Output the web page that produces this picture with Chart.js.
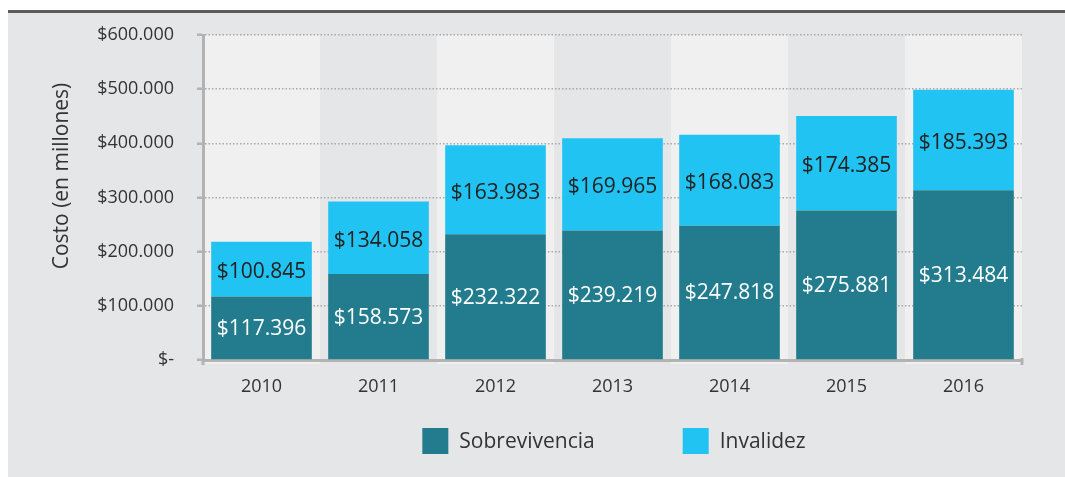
<!DOCTYPE html>
<html><head><meta charset="utf-8">
<script src="https://cdn.jsdelivr.net/npm/chart.js@4.4.1/dist/chart.umd.min.js"></script>
<style>html,body{margin:0;padding:0;background:#fff;overflow:hidden}#wrap{width:1065px;height:477px}</style>
</head><body><div id="wrap"><canvas id="c" width="1065" height="477"></canvas></div>
<script>
const categories = ['2010', '2011', '2012', '2013', '2014', '2015', '2016'];
const sobrevivencia = [117396, 158573, 232322, 239219, 247818, 275881, 313484];
const invalidez = [100845, 134058, 163983, 169965, 168083, 174385, 185393];
const yTickValues = [0, 100000, 200000, 300000, 400000, 500000, 600000];
const seriesNames = ['Sobrevivencia', 'Invalidez'];
const seriesColors = ['#227c8d', '#21c3f2'];
const labelColors = ['#ffffff', '#222222'];
const yTitle = 'Costo (en millones)';

const FONT = '"Open Sans", "Noto Sans", sans-serif';
function fmt(n) {
  if (n === 0) return '$-';
  return '$' + String(n).replace(/\B(?=(\d{3})+(?!\d))/g, '.');
}

const bgPlugin = {
  id: 'bg',
  beforeDraw(chart) {
    const ctx = chart.ctx;
    ctx.save();
    ctx.fillStyle = '#ffffff';
    ctx.fillRect(0, 0, chart.width, chart.height);
    ctx.fillStyle = '#e5e6e8';
    ctx.fillRect(8, 12, chart.width - 8, chart.height - 12);
    ctx.fillStyle = '#5c5c5c';
    ctx.fillRect(8, 10, chart.width - 8, 3);
    const xs = chart.scales.x, ca = chart.chartArea;
    const w = xs.width / categories.length;
    for (let i = 0; i < categories.length; i += 2) {
      const cx = xs.getPixelForValue(i);
      ctx.fillStyle = '#f0f0f0';
      ctx.fillRect(cx - w / 2, ca.top, w, ca.bottom - ca.top + 4);
    }
    ctx.restore();
  },
  afterDraw(chart) {
    const ctx = chart.ctx, ca = chart.chartArea;
    ctx.save();
    ctx.fillStyle = '#b3b3b3';
    ctx.fillRect(ca.left - 1.5, ca.bottom, 3, 5);
    ctx.fillRect(ca.right - 1.5, ca.bottom - 2, 3, 7);
    // axis title
    ctx.translate(62, 176);
    ctx.rotate(-Math.PI / 2);
    ctx.font = '21px ' + FONT;
    ctx.fillStyle = '#333333';
    ctx.textAlign = 'center';
    ctx.textBaseline = 'middle';
    ctx.fillText(yTitle, 0, 0);
    ctx.restore();
  }
};

const labelPlugin = {
  id: 'vals',
  afterDatasetsDraw(chart) {
    const ctx = chart.ctx;
    ctx.save();
    ctx.font = '21px ' + FONT;
    ctx.textAlign = 'center';
    ctx.textBaseline = 'middle';
    chart.data.datasets.forEach((ds, di) => {
      const meta = chart.getDatasetMeta(di);
      ctx.fillStyle = labelColors[di];
      meta.data.forEach((el, i) => {
        const y = (el.y + el.base) / 2;
        ctx.fillText(fmt(ds.data[i]), el.x, y + (di === 1 ? 3 : 1));
      });
    });
    ctx.restore();
  }
};

const legendPlugin = {
  id: 'customLegend',
  afterDraw(chart) {
    const ctx = chart.ctx;
    ctx.save();
    ctx.font = '21px ' + FONT;
    ctx.textBaseline = 'middle';
    ctx.textAlign = 'left';
    const box = 26, gapText = 11, gapItem = 88;
    const widths = seriesNames.map(n => box + gapText + ctx.measureText(n).width);
    const total = widths.reduce((a, b) => a + b, 0) + gapItem * (widths.length - 1);
    const ca = chart.chartArea;
    let x = (ca.left + ca.right) / 2 + 1.5 - total / 2;
    const cy = 441;
    seriesNames.forEach((n, i) => {
      ctx.fillStyle = seriesColors[i];
      ctx.fillRect(x, cy - box / 2, box, box);
      ctx.fillStyle = '#333333';
      ctx.fillText(n, x + box + gapText, cy + 1);
      x += widths[i] + gapItem;
    });
    ctx.restore();
  }
};

new Chart(document.getElementById('c'), {
  type: 'bar',
  data: {
    labels: categories,
    datasets: [
      { label: seriesNames[0], data: sobrevivencia, backgroundColor: seriesColors[0], barPercentage: 0.86, categoryPercentage: 1 },
      { label: seriesNames[1], data: invalidez, backgroundColor: seriesColors[1], barPercentage: 0.86, categoryPercentage: 1 }
    ]
  },
  options: {
    responsive: false,
    devicePixelRatio: 1,
    animation: false,
    layout: { padding: { left: 0, right: 43, top: 35, bottom: 0 } },
    plugins: { legend: { display: false }, tooltip: { enabled: false } },
    scales: {
      x: {
        stacked: true,
        grid: { display: false, drawTicks: false },
        border: { display: true, color: '#b3b3b3', width: 3 },
        ticks: { color: '#333333', font: { family: FONT, size: 18 }, padding: 16 },
        afterFit(s) { s.height = 117; }
      },
      y: {
        stacked: true,
        min: 0,
        max: 600000,
        afterBuildTicks(s) { s.ticks = yTickValues.map(v => ({ value: v })); },
        ticks: { color: '#333333', font: { family: FONT, size: 18 }, padding: 23, callback: v => fmt(v) },
        grid: { color: '#a8a8a8', lineWidth: 1.5, drawTicks: true, tickLength: 6, tickColor: '#b3b3b3', tickWidth: 2.5 },
        border: { display: true, color: '#b3b3b3', width: 3, dash: [1.5, 2] },
        afterFit(s) { s.width = 203; }
      }
    }
  },
  plugins: [bgPlugin, labelPlugin, legendPlugin]
});
</script></body></html>
